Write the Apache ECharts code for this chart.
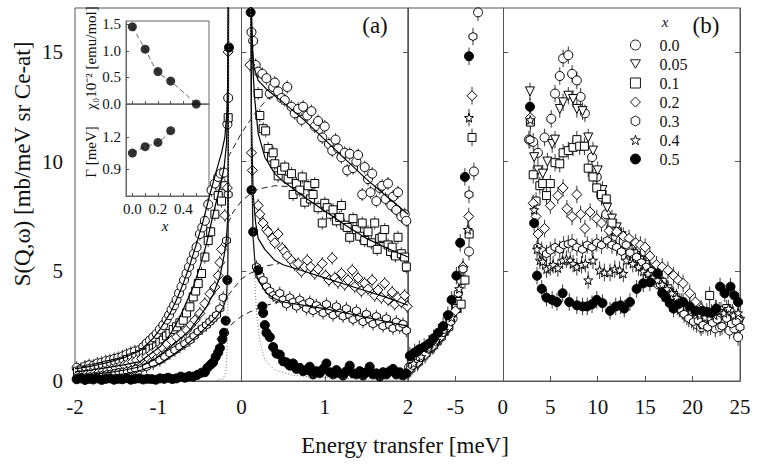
<!DOCTYPE html>
<html><head><meta charset="utf-8">
<script src="https://cdn.jsdelivr.net/npm/echarts@6/dist/echarts.min.js"></script>
<style>html,body{margin:0;padding:0;background:#fff}#c{width:762px;height:466px}</style>
</head><body><div id="c"></div>
<script>
// ---------------- DATA ----------------
const legendNames = ['0.0','0.05','0.1','0.2','0.3','0.4','0.5'];
const xTicksA = [-2,-1,0,1,2];
const xTicksB = [-5,0,5,10,15,20,25];
const yTicks = [0,5,10,15];

// Panel (a): [energy meV, S]
const a_x00 = [[-1.98,0.6],[-1.93,0.55],[-1.88,0.66],[-1.83,0.72],[-1.78,0.7],[-1.73,0.8],[-1.68,0.83],[-1.63,0.9],[-1.58,0.94],[-1.53,1.0],[-1.48,1.05],[-1.43,1.12],[-1.38,1.2],[-1.33,1.28],[-1.28,1.35],[-1.22,1.42],[-1.18,1.55],[-1.14,1.72],[-1.1,1.85],[-1.06,2.0],[-1.02,2.15],[-0.98,2.35],[-0.94,2.55],[-0.9,2.8],[-0.87,3.0],[-0.84,3.25],[-0.81,3.45],[-0.78,3.7],[-0.75,4.0],[-0.72,4.3],[-0.69,4.6],[-0.66,4.9],[-0.63,5.2],[-0.6,5.5],[-0.57,5.8],[-0.54,6.1],[-0.5,6.7],[-0.47,7.0],[-0.44,7.3],[-0.4,8.05],[-0.36,8.7],[-0.32,9.0],[-0.28,9.3],[-0.25,9.45],[-0.21,9.5],[-0.17,11.7],[-0.16,12.9],
 [0.12,15.9],[0.14,15.5],[0.17,14.4],[0.2,14.1],[0.25,14.0],[0.3,13.8],[0.34,13.1],[0.38,13.4],[0.4,13.6],[0.44,13.2],[0.48,12.9],[0.52,12.8],[0.55,13.4],[0.6,12.5],[0.64,12.2],[0.68,12.4],[0.72,11.9],[0.74,12.5],[0.79,12.1],[0.84,12.3],[0.88,11.6],[0.92,11.85],[0.97,11.1],[1.0,11.6],[1.05,10.8],[1.09,10.5],[1.13,11.0],[1.16,10.6],[1.2,10.2],[1.24,10.4],[1.27,9.6],[1.3,10.35],[1.34,9.7],[1.38,10.0],[1.4,10.3],[1.45,8.5],[1.48,9.75],[1.52,9.2],[1.55,8.6],[1.57,9.45],[1.62,8.2],[1.66,8.8],[1.69,8.9],[1.73,8.3],[1.76,9.0],[1.8,8.0],[1.82,8.4],[1.86,7.8],[1.88,8.6],[1.92,7.5],[1.96,7.6],[1.98,7.3]];
const a_x01 = [[-1.97,0.45],[-1.92,0.5],[-1.87,0.48],[-1.82,0.55],[-1.77,0.58],[-1.72,0.62],[-1.67,0.66],[-1.62,0.72],[-1.57,0.75],[-1.52,0.8],[-1.47,0.85],[-1.42,0.9],[-1.37,0.98],[-1.32,1.05],[-1.27,1.12],[-1.22,1.2],[-1.18,1.3],[-1.14,1.26],[-1.1,1.45],[-1.06,1.5],[-1.02,1.56],[-0.98,1.75],[-0.94,1.86],[-0.9,2.05],[-0.86,2.17],[-0.82,2.35],[-0.78,2.47],[-0.74,2.65],[-0.7,2.77],[-0.66,3.1],[-0.62,3.38],[-0.58,3.83],[-0.55,4.1],[-0.52,4.44],[-0.48,4.9],[-0.44,5.65],[-0.4,6.4],[-0.37,6.8],[-0.32,7.6],[-0.28,8.45],[-0.24,8.2],[-0.2,8.9],[-0.16,12.0],
 [0.2,13.1],[0.22,12.1],[0.26,11.5],[0.29,11.4],[0.32,10.6],[0.36,10.2],[0.38,10.4],[0.4,9.9],[0.44,9.35],[0.48,9.6],[0.52,9.75],[0.56,9.2],[0.6,9.45],[0.62,8.5],[0.66,9.0],[0.7,8.7],[0.73,9.3],[0.76,8.15],[0.8,8.9],[0.83,8.3],[0.86,8.5],[0.88,9.0],[0.92,7.9],[0.97,7.2],[1.0,8.1],[1.03,7.9],[1.07,7.6],[1.1,7.8],[1.14,7.3],[1.18,7.45],[1.2,8.0],[1.24,7.1],[1.27,7.0],[1.3,6.55],[1.34,7.4],[1.38,6.9],[1.42,6.6],[1.45,7.2],[1.48,6.4],[1.52,6.8],[1.56,6.3],[1.6,7.2],[1.63,6.0],[1.66,6.5],[1.69,6.55],[1.72,6.9],[1.76,6.2],[1.79,5.9],[1.81,6.1],[1.85,5.7],[1.88,6.55],[1.92,5.8],[1.96,5.65],[1.98,5.2]];
const a_x02 = [[-1.96,0.28],[-1.91,0.3],[-1.86,0.32],[-1.81,0.35],[-1.76,0.38],[-1.71,0.42],[-1.66,0.46],[-1.61,0.5],[-1.56,0.55],[-1.51,0.6],[-1.46,0.66],[-1.41,0.72],[-1.36,0.8],[-1.31,0.88],[-1.26,0.95],[-1.2,1.02],[-1.14,1.1],[-1.08,1.25],[-1.02,1.4],[-0.96,1.55],[-0.9,1.7],[-0.84,1.85],[-0.78,2.0],[-0.72,2.15],[-0.66,2.32],[-0.61,2.55],[-0.56,2.77],[-0.5,3.08],[-0.44,3.53],[-0.38,3.98],[-0.32,4.28],[-0.28,4.8],[-0.26,5.4],[-0.24,6.0],[-0.2,7.55],[-0.17,8.8],[-0.16,15.0],
 [0.1,14.4],[0.12,10.4],[0.13,9.6],[0.2,8.0],[0.22,7.6],[0.26,7.2],[0.3,6.9],[0.32,6.8],[0.37,6.5],[0.4,6.3],[0.44,6.7],[0.49,6.05],[0.52,5.9],[0.55,5.7],[0.6,5.5],[0.64,5.3],[0.68,5.35],[0.72,5.0],[0.76,5.2],[0.79,5.5],[0.83,5.2],[0.88,4.9],[0.92,5.1],[0.97,5.35],[1.01,4.8],[1.05,4.6],[1.09,5.6],[1.12,4.7],[1.16,4.5],[1.2,4.9],[1.24,4.4],[1.28,4.6],[1.33,5.05],[1.36,4.3],[1.4,4.7],[1.44,4.1],[1.48,4.45],[1.52,4.2],[1.57,4.6],[1.6,3.9],[1.64,4.15],[1.68,3.8],[1.72,4.45],[1.76,3.7],[1.81,4.05],[1.84,3.5],[1.88,3.8],[1.92,3.6],[1.96,3.9],[1.99,3.4]];
const a_x03 = [[-1.97,0.15],[-1.92,0.18],[-1.87,0.16],[-1.82,0.2],[-1.77,0.22],[-1.72,0.24],[-1.67,0.27],[-1.62,0.3],[-1.57,0.32],[-1.52,0.36],[-1.47,0.4],[-1.42,0.42],[-1.37,0.46],[-1.32,0.5],[-1.27,0.55],[-1.2,0.6],[-1.14,0.65],[-1.06,0.8],[-0.98,0.95],[-0.92,1.1],[-0.86,1.26],[-0.8,1.4],[-0.74,1.56],[-0.68,1.7],[-0.62,1.86],[-0.57,2.05],[-0.52,2.25],[-0.47,2.4],[-0.42,2.55],[-0.38,2.7],[-0.34,2.85],[-0.3,3.0],[-0.26,3.3],[-0.22,3.8],[-0.18,6.4],[-0.16,8.5],
 [0.18,5.2],[0.22,4.8],[0.26,4.6],[0.3,4.3],[0.34,4.1],[0.38,3.9],[0.42,3.8],[0.46,4.0],[0.5,3.7],[0.54,3.5],[0.58,3.8],[0.62,3.6],[0.66,3.4],[0.7,3.7],[0.74,3.5],[0.78,3.3],[0.82,3.6],[0.86,3.2],[0.9,3.45],[0.94,3.3],[0.98,3.1],[1.02,3.5],[1.06,3.2],[1.1,3.0],[1.14,3.4],[1.18,3.1],[1.22,2.95],[1.26,3.3],[1.3,3.0],[1.34,2.8],[1.38,3.2],[1.42,2.9],[1.46,2.7],[1.5,3.05],[1.54,2.8],[1.58,2.6],[1.62,2.95],[1.66,2.7],[1.7,2.5],[1.74,2.85],[1.78,2.55],[1.82,2.4],[1.86,2.7],[1.9,2.45],[1.94,2.6],[1.98,2.3]];
const a_x05 = [[-1.98,0.08],[-1.93,0.12],[-1.88,0.05],[-1.83,0.1],[-1.78,0.07],[-1.73,0.12],[-1.68,0.05],[-1.63,0.1],[-1.58,0.12],[-1.53,0.06],[-1.48,0.1],[-1.43,0.08],[-1.38,0.13],[-1.33,0.06],[-1.28,0.1],[-1.23,0.12],[-1.18,0.07],[-1.13,0.1],[-1.08,0.09],[-1.03,0.06],[-0.98,0.12],[-0.93,0.1],[-0.88,0.15],[-0.83,0.09],[-0.78,0.12],[-0.73,0.2],[-0.68,0.15],[-0.63,0.22],[-0.58,0.2],[-0.53,0.28],[-0.48,0.38],[-0.44,0.4],[-0.41,0.6],[-0.37,0.75],[-0.34,0.85],[-0.31,1.1],[-0.28,1.3],[-0.26,1.5],[-0.23,1.9],[-0.21,2.2],[-0.19,2.75],[-0.17,4.6],[-0.15,15.2],
 [0.11,16.8],[0.12,8.7],[0.14,6.8],[0.2,5.05],[0.25,3.4],[0.26,3.1],[0.28,2.55],[0.3,2.2],[0.34,2.0],[0.38,1.55],[0.42,1.25],[0.46,1.2],[0.5,0.9],[0.54,0.85],[0.58,0.7],[0.62,0.8],[0.66,0.55],[0.7,0.6],[0.74,0.45],[0.78,0.5],[0.82,0.65],[0.86,0.3],[0.9,0.45],[0.94,0.35],[0.98,0.55],[1.02,0.8],[1.06,0.4],[1.1,0.3],[1.14,0.5],[1.18,0.35],[1.22,0.25],[1.26,0.45],[1.3,0.7],[1.34,0.35],[1.38,0.3],[1.42,0.45],[1.46,0.25],[1.5,0.4],[1.54,0.65],[1.58,0.3],[1.62,0.35],[1.66,0.2],[1.7,0.4],[1.74,0.3],[1.78,0.45],[1.82,0.55],[1.86,0.3],[1.9,0.4],[1.94,0.25],[1.98,0.35]];

// Panel (a) fits: solid = total fit, dashed = quasielastic part, dotted = elastic line
const fit_x00 = [[-2,0.55],[-1.8,0.68],[-1.6,0.85],[-1.4,1.08],[-1.22,1.38],[-1.06,1.95],[-0.98,2.35],[-0.86,3.08],[-0.78,3.7],[-0.7,4.44],[-0.62,5.3],[-0.54,6.26],[-0.46,7.3],[-0.38,8.5],[-0.3,9.6],[-0.24,10.4],[-0.2,11.1],[-0.175,12.3],[-0.163,14],[-0.155,20],
 [0.11,20],[0.115,17],[0.125,15.5],[0.15,14.3],[0.2,13.7],[0.3,13.3],[0.4,13.0],[0.5,12.7],[0.75,11.9],[1.0,11.0],[1.25,10.1],[1.5,9.2],[1.75,8.4],[2.0,7.6]];
const fit_x01 = [[-2,0.42],[-1.8,0.5],[-1.6,0.62],[-1.4,0.75],[-1.22,0.88],[-0.98,1.56],[-0.86,2.1],[-0.74,2.92],[-0.66,3.6],[-0.58,4.28],[-0.5,5.2],[-0.42,6.26],[-0.34,7.6],[-0.26,8.83],[-0.21,9.7],[-0.18,10.8],[-0.165,13],[-0.155,20],
 [0.11,20],[0.12,17],[0.14,14],[0.16,12.8],[0.2,11.3],[0.28,10.2],[0.4,9.45],[0.5,9.1],[0.75,8.4],[1.0,7.75],[1.25,7.1],[1.5,6.5],[1.75,6.05],[2.0,5.65]];
const fit_x02 = [[-2,0.22],[-1.8,0.3],[-1.6,0.38],[-1.4,0.5],[-1.22,0.65],[-1.06,0.95],[-0.9,1.41],[-0.76,1.85],[-0.62,2.32],[-0.52,2.85],[-0.42,3.38],[-0.34,3.95],[-0.26,4.74],[-0.21,5.7],[-0.18,6.5],[-0.165,7.5],[-0.16,10],[-0.155,20],
 [0.11,20],[0.12,12],[0.14,8.5],[0.17,7.2],[0.2,6.5],[0.28,6.0],[0.4,5.5],[0.5,5.3],[0.75,5.0],[1.0,4.7],[1.25,4.4],[1.5,4.1],[1.75,3.8],[2.0,3.45]];
const fit_x03 = [[-2,0.12],[-1.8,0.17],[-1.6,0.24],[-1.4,0.33],[-1.22,0.48],[-1.0,0.75],[-0.82,1.2],[-0.66,1.65],[-0.5,2.17],[-0.4,2.55],[-0.3,2.92],[-0.22,3.35],[-0.18,3.8],[-0.165,5],[-0.158,8],[-0.155,20],
 [0.11,20],[0.12,10],[0.14,6.5],[0.17,5.0],[0.2,4.6],[0.3,4.0],[0.4,3.75],[0.5,3.6],[0.75,3.45],[1.0,3.3],[1.25,3.1],[1.5,2.9],[1.75,2.7],[2.0,2.5]];
const qe_x00 = [[-0.16,10.2],[0.0,11.3],[0.16,12.2],[0.32,12.9],[0.4,13.0]];
const qe_x01 = [[-0.16,7.2],[-0.1,7.7],[0.0,8.2],[0.1,8.5],[0.2,8.75],[0.4,8.9],[0.6,8.85],[0.75,8.45]];
const qe_x02 = [[-0.16,3.9],[-0.1,4.2],[0.0,4.65],[0.1,4.9],[0.22,5.1],[0.3,5.25],[0.45,5.35]];
const qe_x03 = [[-0.3,1.9],[-0.16,2.4],[-0.1,2.65],[0.0,2.95],[0.1,3.15],[0.2,3.3],[0.3,3.45],[0.45,3.6]];
const elastic = [[-0.3,0.03],[-0.22,0.1],[-0.19,0.4],[-0.175,1.2],[-0.165,3],[-0.16,6],[-0.155,12],[-0.15,20],[0.105,20],[0.11,14],[0.12,10],[0.14,7.6],[0.16,4.6],[0.18,3.1],[0.22,1.85],[0.28,0.95],[0.4,0.5],[0.6,0.27],[0.85,0.18],[1.2,0.12],[1.6,0.09],[2.0,0.07]];

// Panel (b)
const b_x00 = [[-9.9,0.62],[-9.3,0.85],[-8.6,1.1],[-7.9,1.4],[-7.2,1.7],[-6.5,2.05],[-5.8,2.45],[-5.3,2.85],[-4.9,3.4],[-4.4,4.6],[-3.57,5.9],[-3.05,9.55],[-2.62,16.8],
 [2.75,11.0],[3.2,10.9],[3.7,10.4],[4.4,11.1],[5.1,11.95],[5.5,13.1],[6.0,13.9],[6.35,14.7],[6.9,14.85],[7.3,14.0],[7.8,13.7],[8.2,12.95],[8.65,12.2],[9.4,10.2],[9.9,9.3],[10.4,8.4],[10.9,7.6],[11.4,7.0],[11.9,6.6],[12.4,6.4],[12.9,6.2],[13.4,5.9],[13.9,5.6],[14.4,5.4],[14.9,5.2],[15.4,4.9],[15.9,4.7],[16.4,4.4],[16.9,4.2],[17.4,3.9],[17.9,3.6],[18.4,3.4],[18.9,3.2],[19.4,2.95],[19.9,2.8],[20.4,2.6],[20.9,2.45],[21.4,2.6],[21.9,2.5],[22.4,2.4],[22.9,2.45],[23.4,2.6],[23.9,2.3],[24.4,2.4],[24.8,2.0]];
const b_x005 = [[-9.6,0.72],[-8.8,1.0],[-8.0,1.35],[-7.2,1.75],[-6.4,2.15],[-5.6,2.6],[-4.8,3.6],
 [2.86,13.2],[3.3,10.2],[3.7,9.6],[4.2,9.45],[4.7,10.0],[5.2,10.8],[5.5,11.0],[6.0,12.4],[6.35,12.7],[6.9,13.0],[7.4,12.85],[7.8,12.4],[8.4,12.3],[9.0,11.1],[9.5,10.5],[10.0,9.6],[10.5,8.7],[11.0,7.9],[11.5,7.4],[12.0,7.0],[12.5,6.6],[13.0,6.3],[13.5,6.0],[14.0,5.7],[14.5,5.5],[15.0,5.2],[15.5,5.0],[16.0,4.8],[16.5,4.5],[17.0,4.3],[17.5,4.0],[18.0,3.8],[18.5,3.5],[19.0,3.3],[19.5,3.1],[20.0,2.9],[20.8,2.55],[21.4,2.8],[22.0,2.7],[22.6,2.9],[23.2,2.7],[23.8,3.0],[24.4,2.8],[25.0,2.7]];
const b_x01 = [[-9.7,0.6],[-8.9,0.92],[-8.1,1.3],[-7.3,1.65],[-6.5,2.05],[-5.7,2.5],[-4.9,3.3],[-4.4,3.5],[-4.0,4.6],[-3.55,6.7],[-3.25,11.1],
 [2.9,11.8],[3.2,9.4],[3.5,8.2],[3.9,8.9],[4.2,9.0],[4.6,8.45],[5.0,9.0],[5.5,9.95],[6.0,9.9],[6.35,10.4],[6.9,10.5],[7.4,10.65],[7.8,11.0],[8.1,10.7],[8.6,10.7],[9.0,9.7],[9.5,9.3],[9.9,8.8],[10.4,8.5],[10.9,8.3],[11.5,7.2],[12.0,6.8],[12.7,6.3],[13.2,6.0],[13.8,5.8],[14.4,5.5],[15.0,5.3],[15.6,5.0],[16.2,4.7],[16.8,4.5],[17.4,4.2],[18.0,3.9],[18.6,3.6],[19.2,3.3],[19.8,3.1],[20.4,3.0],[21.0,3.1],[21.8,3.9],[22.4,3.1],[23.0,3.0],[23.6,3.3],[24.2,2.9],[24.8,2.8]];
const b_x02 = [[-9.8,0.55],[-9.0,0.85],[-8.2,1.2],[-7.4,1.6],[-6.6,2.0],[-5.8,2.45],[-5.0,3.2],[-4.2,5.2],[-3.6,7.5],[-3.25,13.0],
 [2.9,12.0],[3.2,8.1],[3.5,7.5],[3.7,6.7],[4.4,6.95],[5.0,8.0],[5.8,8.45],[6.35,8.8],[6.75,7.85],[7.3,7.5],[7.8,8.5],[8.2,7.6],[8.65,6.95],[9.2,7.7],[9.9,7.4],[10.4,7.2],[11.2,6.85],[12.0,6.8],[12.7,6.6],[13.3,6.5],[14.0,6.3],[14.5,6.2],[15.0,6.1],[15.5,5.7],[16.2,5.3],[16.8,5.2],[17.4,5.05],[18.0,4.8],[18.5,4.6],[19.0,4.45],[19.7,4.0],[20.3,3.6],[20.9,3.3],[21.8,2.9],[22.4,3.3],[23.0,3.2],[23.6,3.0],[24.2,3.1],[24.8,2.8]];
const b_x03 = [[-9.5,0.7],[-8.7,1.05],[-7.9,1.45],[-7.1,1.8],[-6.3,2.2],[-5.5,2.7],[-4.7,4.0],[-4.2,5.1],[-3.57,8.5],[-3.15,15.7],
 [2.86,11.0],[3.7,6.1],[4.1,5.95],[4.6,5.8],[5.0,5.95],[5.5,6.1],[6.0,6.0],[6.4,6.2],[6.9,6.25],[7.3,6.3],[7.8,6.1],[8.4,6.0],[8.9,6.2],[9.4,6.1],[9.9,6.3],[10.4,6.2],[11.0,6.4],[11.5,6.2],[12.0,6.1],[12.5,5.9],[13.0,6.2],[13.4,5.85],[14.1,5.65],[14.6,5.4],[15.1,5.2],[15.6,5.0],[16.1,4.7],[16.6,4.4],[17.1,4.1],[17.6,3.8],[18.1,3.55],[18.6,3.3],[19.1,3.05],[19.6,2.85],[20.1,2.7],[20.6,2.75],[21.1,2.55],[21.6,2.45],[22.1,2.65],[22.6,2.8],[23.1,2.5],[23.6,2.85],[24.1,2.6],[24.6,2.7],[25.0,2.45]];
const b_x04 = [[-9.4,0.8],[-8.6,1.1],[-7.8,1.5],[-7.0,1.85],[-6.2,2.3],[-5.4,2.9],[-4.6,4.2],[-3.7,6.9],[-3.57,12.0],
 [2.9,11.9],[3.3,7.8],[3.6,6.0],[3.9,5.5],[4.2,5.45],[4.6,5.1],[5.0,5.2],[5.3,5.3],[5.8,5.15],[6.3,5.5],[6.7,5.55],[7.1,5.5],[7.4,5.35],[7.8,5.2],[8.3,5.3],[8.7,5.35],[9.0,4.6],[9.5,5.5],[10.2,5.05],[10.7,4.95],[11.3,4.95],[11.8,5.1],[12.3,5.05],[12.7,4.9],[13.0,5.5],[13.7,5.35],[14.3,5.2],[14.8,5.0],[15.3,4.9],[15.8,4.7],[16.3,4.6],[16.8,4.4],[17.3,4.2],[17.8,4.0],[18.3,3.8],[18.8,3.6],[19.3,3.4],[19.8,3.2],[20.3,3.1],[20.8,3.0],[21.3,2.9],[21.8,3.1],[22.3,3.0],[22.8,3.2],[23.3,3.1],[23.8,3.3],[24.3,3.0],[24.8,3.1]];
const b_x05 = [[-9.8,1.15],[-9.3,1.3],[-8.8,1.45],[-8.3,1.55],[-7.8,1.7],[-7.3,1.95],[-6.8,2.2],[-6.3,2.5],[-5.8,3.0],[-5.4,3.7],[-4.9,4.8],[-4.5,6.3],[-4.0,9.3],[-3.57,14.8],
 [2.86,12.5],[3.3,7.2],[3.6,4.8],[4.1,4.2],[4.6,3.8],[5.2,3.7],[5.7,3.6],[6.3,4.0],[7.0,3.6],[7.8,3.45],[8.4,3.4],[8.9,3.4],[9.4,3.5],[9.9,3.7],[10.5,3.55],[11.3,3.2],[11.9,3.4],[12.4,3.45],[12.8,3.3],[13.4,3.6],[14.1,4.2],[14.8,4.45],[15.5,4.5],[16.3,4.9],[16.8,4.0],[17.2,3.8],[17.6,3.55],[18.0,3.3],[18.5,3.5],[19.0,3.6],[19.7,3.4],[20.3,3.2],[21.0,3.2],[21.5,3.15],[22.0,3.1],[22.5,3.3],[22.9,4.3],[23.4,4.0],[24.0,4.3],[24.4,3.9],[24.8,3.6]];

// error bar half-heights (S units)
const errA = 0.3;
const errB = 0.4;

// Inset
const insetX = [0.0,0.1,0.2,0.3,0.5];
const chi0 = [1.45,1.03,0.61,0.43,0.0];
const gammaX = [0.0,0.1,0.2,0.3];
const gamma = [1.05,1.11,1.15,1.26];
const insetXTicks = [0,0.1,0.2,0.3,0.4,0.5];
const insetXLabels = [0,0.2,0.4];
const chiTicks = [0,0.5,1.0,1.5];
const gammaTicks = [0.9,1.2];

// ---------------- STYLE / BUILD ----------------
const FONT = 'Liberation Serif';
const INK = '#111';
const FRAME = '#555';
const HEX = 'path://M0,-10L8.66,-5L8.66,5L0,10L-8.66,5L-8.66,-5Z';
const STAR = 'path://M0,-10L2.35,-3.24L9.51,-3.09L3.8,1.24L5.88,8.09L0,4L-5.88,8.09L-3.8,1.24L-9.51,-3.09L-2.35,-3.24Z';
const TRI_DOWN = 'path://M-10,-8L10,-8L0,9Z';
const markStyle = {
  '0.0': {symbol:'circle', size:9, fill:'#fff'},
  '0.05': {symbol:TRI_DOWN, size:9, fill:'#fff'},
  '0.1': {symbol:'rect', size:8, fill:'#fff'},
  '0.2': {symbol:'diamond', size:10, fill:'#fff'},
  '0.3': {symbol:HEX, size:8, fill:'#fff'},
  '0.4': {symbol:STAR, size:9, fill:'#fff'},
  '0.5': {symbol:'circle', size:9, fill:'#000'}
};

function scatter(name, data, xi, yi) {
  const m = markStyle[name];
  return {type:'scatter', name, data, xAxisIndex:xi, yAxisIndex:yi,
    symbol:m.symbol, symbolSize:m.size, z:3,
    itemStyle:{color:m.fill, borderColor:'#000', borderWidth:1, opacity:1}, clip:true};
}
function errBars(data, xi, yi, err) {
  return {type:'custom', name:'err', data, xAxisIndex:xi, yAxisIndex:yi, clip:true, z:2, silent:true,
    renderItem(params, api) {
      const x = api.value(0), y = api.value(1);
      const p1 = api.coord([x, y - err]), p2 = api.coord([x, y + err]);
      return {type:'line', shape:{x1:p1[0], y1:p1[1], x2:p2[0], y2:p2[1]}, style:{stroke:'#222', lineWidth:0.9}};
    }};
}
function curve(data, xi, yi, dash, width, color, smooth) {
  return {type:'line', name:'curve', data, xAxisIndex:xi, yAxisIndex:yi, symbol:'none', showSymbol:false,
    smooth: smooth||false, clip:true, silent:true, z:4,
    lineStyle:{type:dash, width, color}};
}

const panelA = [['0.0',a_x00],['0.1',a_x01],['0.2',a_x02],['0.3',a_x03],['0.5',a_x05]];
const panelB = [['0.0',b_x00],['0.05',b_x005],['0.1',b_x01],['0.2',b_x02],['0.3',b_x03],['0.4',b_x04],['0.5',b_x05]];

const series = [];
panelB.forEach(([n, d]) => { series.push(scatter(n, d, 1, 2)); series.push(errBars(d, 1, 2, errB)); });
panelA.forEach(([n, d]) => { series.push(scatter(n, d, 0, 0)); if (n !== '0.5') series.push(errBars(d, 0, 0, errA)); });
[fit_x00, fit_x01, fit_x02, fit_x03].forEach(d => series.push(curve(d, 0, 0, 'solid', 1.2, '#000')));
[qe_x00, qe_x01, qe_x02, qe_x03].forEach(d => series.push(curve(d, 0, 0, [6,4], 1, '#222')));
series.push(curve(elastic, 0, 0, [1,2], 1, '#777'));
// inset
series.push(Object.assign(curve(insetX.map((x,i)=>[x, chi0[i]]), 2, 4, [5,3], 0.8, '#444', true), {z:6}));
series.push(Object.assign(curve(gammaX.map((x,i)=>[x, gamma[i]]), 3, 5, [5,3], 0.8, '#444', true), {z:6}));
series.push({type:'scatter', name:'chi0', data:insetX.map((x,i)=>[x, chi0[i]]), xAxisIndex:2, yAxisIndex:4, symbol:'circle', symbolSize:9, itemStyle:{color:'#000'}, z:7, silent:true});
series.push({type:'scatter', name:'gamma', data:gammaX.map((x,i)=>[x, gamma[i]]), xAxisIndex:3, yAxisIndex:5, symbol:'circle', symbolSize:9, itemStyle:{color:'#000'}, z:7, silent:true});

const lbl = (size) => ({fontFamily:FONT, fontSize:size, color:INK});
const tickIn = (len, vals) => ({show:true, inside:true, length:len, lineStyle:{color:FRAME}, customValues:vals});
const axLine = {show:true, lineStyle:{color:FRAME, width:1}};
const inLine = {show:true, onZero:false, lineStyle:{color:'#666', width:1}};
const txt = (text, x, y, size, extra) => Object.assign({type:'text', x, y, z:20,
  style:{text, fontFamily:FONT, fontSize:size, fill:INK, textAlign:'center', textVerticalAlign:'middle'}}, extra||{});
const itx = (text, x, y, size) => ({type:'text', x, y, z:20,
  style:{text, fontFamily:FONT, fontSize:size, fontStyle:'italic', fill:INK, textAlign:'center', textVerticalAlign:'middle'}});

const option = {
  animation:false,
  backgroundColor:'#fff',
  textStyle:{fontFamily:FONT},
  grid:[
    {left:75, top:8, width:333, height:373, show:true, borderColor:FRAME, borderWidth:1, backgroundColor:'transparent'},
    {left:408, top:8, width:332, height:373, show:true, borderColor:FRAME, borderWidth:1, backgroundColor:'transparent'},
    {left:126, top:21, width:83, height:83, show:true, borderColor:'#666', borderWidth:1, backgroundColor:'transparent'},
    {left:126, top:104, width:83, height:92, show:true, borderColor:'#666', borderWidth:1, backgroundColor:'transparent'}
  ],
  xAxis:[
    {gridIndex:0, type:'value', min:-2, max:2, axisLine:axLine, axisTick:tickIn(5, xTicksA), splitLine:{show:false},
     axisLabel:{...lbl(21), margin:15, customValues:xTicksA}},
    {gridIndex:1, type:'value', min:-10, max:25, axisLine:axLine, axisTick:tickIn(5, xTicksB), splitLine:{show:false},
     axisLabel:{...lbl(21), margin:15, customValues:xTicksB}},
    {gridIndex:2, type:'value', min:-0.05, max:0.6, axisLine:inLine, axisTick:tickIn(3, insetXTicks), axisLabel:{show:false}, splitLine:{show:false}},
    {gridIndex:3, type:'value', min:-0.05, max:0.6, axisLine:inLine, axisTick:tickIn(3, insetXTicks),
     axisLabel:{...lbl(15), margin:5, customValues:insetXLabels, formatter:v=>v.toFixed(1)}, splitLine:{show:false}}
  ],
  yAxis:[
    {gridIndex:0, type:'value', min:0, max:17, position:'left', axisLine:axLine, axisTick:tickIn(5, yTicks), splitLine:{show:false},
     axisLabel:{...lbl(21), margin:12, customValues:yTicks}},
    {gridIndex:0, type:'value', min:0, max:17, position:'right', axisLine:axLine, axisTick:tickIn(5, yTicks), axisLabel:{show:false}, splitLine:{show:false}},
    {gridIndex:1, type:'value', min:0, max:17, position:'left', axisLine:axLine, axisTick:tickIn(5, yTicks), axisLabel:{show:false}, splitLine:{show:false}},
    {gridIndex:1, type:'value', min:0, max:17, position:'right', axisLine:axLine, axisTick:tickIn(5, yTicks), axisLabel:{show:false}, splitLine:{show:false}},
    {gridIndex:2, type:'value', min:0, max:1.56, axisLine:inLine, axisTick:tickIn(3, chiTicks), splitLine:{show:false},
     axisLabel:{...lbl(15), margin:5, customValues:chiTicks, formatter:v=>v.toFixed(1)}},
    {gridIndex:3, type:'value', min:0.647, max:1.51, axisLine:inLine, axisTick:tickIn(3, gammaTicks), splitLine:{show:false},
     axisLabel:{...lbl(15), margin:5, customValues:gammaTicks, formatter:v=>v.toFixed(1)}}
  ],
  legend:{
    data:legendNames.map(n => ({name:n, icon:markStyle[n].symbol,
      itemStyle:{color:markStyle[n].fill, borderColor:'#000', borderWidth:0.9}})),
    orient:'vertical', left:625, top:32, itemWidth:10, itemHeight:10, itemGap:3,
    selectedMode:false, textStyle:{fontFamily:FONT, fontSize:16, color:INK, lineHeight:16, padding:[0,0,0,14]}
  },
  graphic:[
    txt('(a)', 375, 25, 23),
    txt('(b)', 706, 25, 23),
    itx('x', 665, 22, 15),
    txt('Energy transfer [meV]', 405, 445, 23),
    txt('S(Q,ω) [mb/meV sr Ce-at]', 22, 164, 23, {rotation:Math.PI/2}),
    txt('χ₀10⁻² [emu/mol]', 91, 58, 15, {rotation:Math.PI/2}),
    txt('Γ [meV]', 91, 152, 15, {rotation:Math.PI/2}),
    itx('x', 165, 226, 15)
  ],
  series
};
const chart = echarts.init(document.getElementById('c'), null, {renderer:'svg', width:762, height:466});
chart.setOption(option);
</script></body></html>
